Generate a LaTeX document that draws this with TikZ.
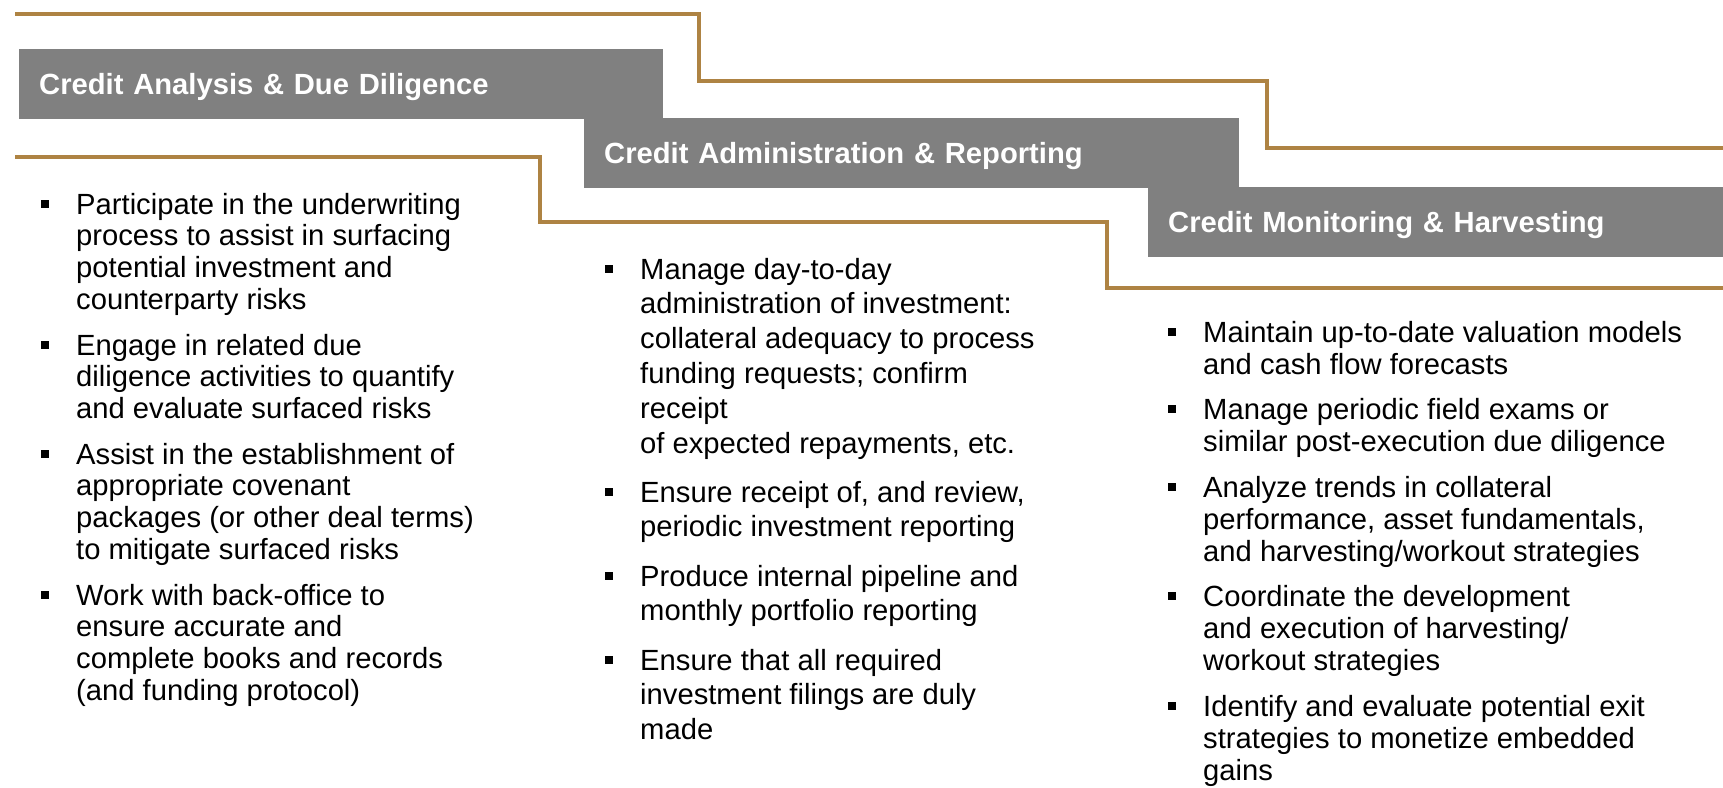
\documentclass[tikz,border=0pt]{standalone}
\usepackage{fontspec}
\setmainfont{Liberation Sans}
\definecolor{stepgold}{RGB}{174,131,67}
\definecolor{bargray}{RGB}{128,128,128}
% square bullet hung in front of the first line
\newcommand\blt{\llap{\rule[6.3pt]{7.5pt}{7.5pt}\hspace{27.3pt}}}
\begin{document}
\begin{tikzpicture}[x=1pt,y=-1pt,
    rail/.style={draw=stepgold,line width=4pt},
    bar/.style={fill=bargray,text=white,anchor=north west,align=left,
      minimum height=70pt,inner xsep=20pt,inner ysep=0pt,
      text height=21.4pt,text depth=0pt,
      font=\bfseries\fontsize{29.2}{34}\selectfont},
    % base of an item sits on the baseline of its last line
    item/.style={anchor=base west,align=left,inner sep=0pt,
      font=\fontsize{29.2}{#1}\selectfont},
    item/.default=32]
  \useasboundingbox (0,0) rectangle (1723,787);
  % stepped rails
  \draw[rail] (15,14) -- (699,14) -- (699,81) -- (1267,81) -- (1267,148) -- (1723,148);
  \draw[rail] (15,157) -- (540,157) -- (540,222) -- (1107,222) -- (1107,288) -- (1723,288);
  % stage headers
  \node[bar,text width=604pt] (analysis) at (19,49) {Credit Analysis \& Due Diligence};
  \node[bar,text width=615pt] (admin) at (584,118) {Credit Administration \& Reporting};
  \node[bar,text width=535pt] (monitor) at (1148,187) {Credit Monitoring \& Harvesting};
  % first stage
  \node[item=31.8] (ana1) at (76,309.4) {\blt Participate in the underwriting\\process to assist in surfacing\\potential investment and\\counterparty risks};
  \node[item=31.8] (ana2) at (76,418.6) {\blt Engage in related due\\diligence activities to quantify\\and evaluate surfaced risks};
  \node[item=31.8] (ana3) at (76,559.4) {\blt Assist in the establishment of\\appropriate covenant\\packages (or other deal terms)\\to mitigate surfaced risks};
  \node[item=31.8] (ana4) at (76,700.4) {\blt Work with back-office to\\ensure accurate and\\complete books and records\\(and funding protocol)};
  % second stage
  \node[item=34.9] (adm1) at (640,453.5) {\blt Manage day-to-day\\administration of investment:\\collateral adequacy to process\\funding requests; confirm\\receipt\\of expected repayments, etc.};
  \node[item=34.9] (adm2) at (640,536.9) {\blt Ensure receipt of, and review,\\periodic investment reporting};
  \node[item=34.9] (adm3) at (640,620.9) {\blt Produce internal pipeline and\\monthly portfolio reporting};
  \node[item=34.9] (adm4) at (640,739.8) {\blt Ensure that all required\\investment filings are duly\\made};
  % third stage
  \node[item=32.2] (mon1) at (1203,374.2) {\blt Maintain up-to-date valuation models\\and cash flow forecasts};
  \node[item=32.2] (mon2) at (1203,451.2) {\blt Manage periodic field exams or\\similar post-execution due diligence};
  \node[item=32.2] (mon3) at (1203,561.4) {\blt Analyze trends in collateral\\performance, asset fundamentals,\\and harvesting/workout strategies};
  \node[item=32.2] (mon4) at (1203,670.4) {\blt Coordinate the development\\and execution of harvesting/\\workout strategies};
  \node[item=32.2] (mon5) at (1203,780.4) {\blt Identify and evaluate potential exit\\strategies to monetize embedded\\gains};
\end{tikzpicture}
\end{document}
